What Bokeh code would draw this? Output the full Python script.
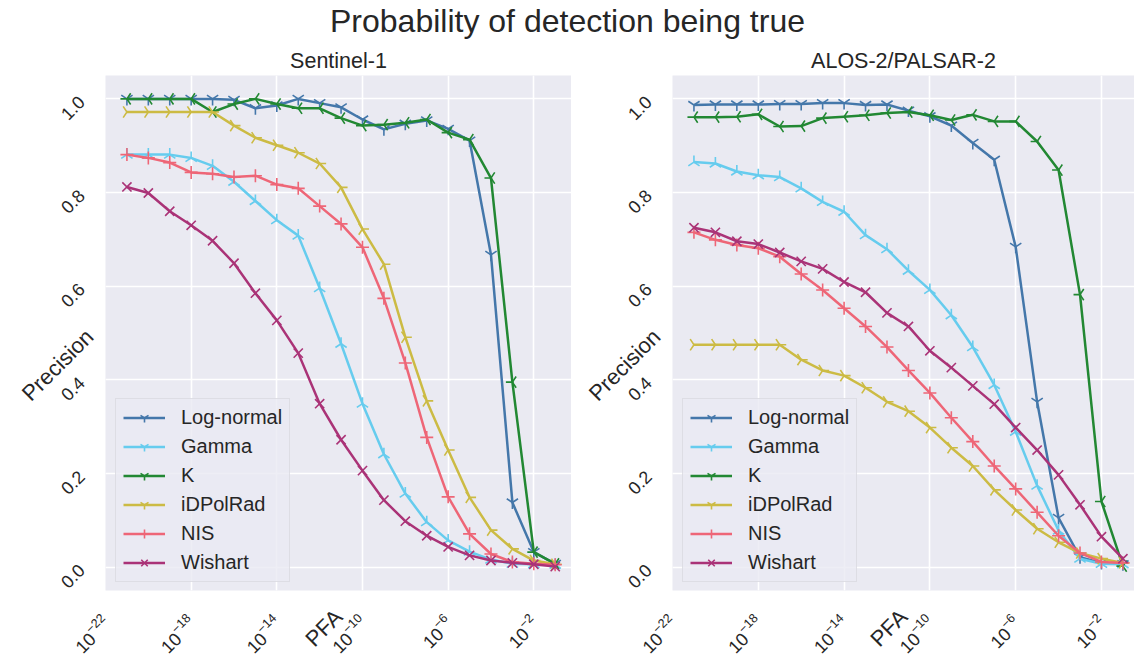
import math
from bokeh.plotting import figure
from bokeh.models import Legend, LegendItem, FixedTicker, LogTickFormatter, NumeralTickFormatter, Range1d
from bokeh.layouts import column, row
from bokeh.embed import file_html
from bokeh.resources import INLINE

# ---------------- data ----------------
exponents = list(range(-21, 0))
pfa = [10.0 ** e for e in exponents]

series_names = ["Log-normal", "Gamma", "K", "iDPolRad", "NIS", "Wishart"]
colors = ["#4477AA", "#66CCEE", "#228833", "#CCBB44", "#EE6677", "#AA3377"]

s1_lognormal = [1.0, 1.0, 1.0, 1.0, 1.0, 0.998, 0.980, 0.986, 1.0, 0.991, 0.982, 0.956, 0.935, 0.947, 0.954, 0.936, 0.911, 0.667, 0.138, 0.032, 0.007]
s1_gamma = [0.881, 0.881, 0.881, 0.874, 0.857, 0.823, 0.782, 0.741, 0.708, 0.596, 0.477, 0.349, 0.241, 0.157, 0.096, 0.057, 0.033, 0.016, 0.007, 0.006, 0.005]
s1_k = [1.0, 1.0, 1.0, 1.0, 0.972, 0.989, 1.0, 0.989, 0.980, 0.980, 0.959, 0.943, 0.945, 0.949, 0.956, 0.928, 0.913, 0.831, 0.395, 0.032, 0.007]
s1_idpolrad = [0.972, 0.972, 0.972, 0.972, 0.972, 0.943, 0.917, 0.901, 0.885, 0.862, 0.811, 0.722, 0.647, 0.491, 0.355, 0.250, 0.149, 0.079, 0.039, 0.014, 0.006]
s1_nis = [0.881, 0.874, 0.864, 0.843, 0.840, 0.833, 0.836, 0.817, 0.809, 0.771, 0.733, 0.683, 0.574, 0.436, 0.277, 0.150, 0.071, 0.028, 0.011, 0.007, 0.005]
s1_wishart = [0.812, 0.799, 0.760, 0.730, 0.697, 0.649, 0.585, 0.527, 0.457, 0.349, 0.272, 0.206, 0.143, 0.098, 0.067, 0.043, 0.025, 0.014, 0.009, 0.006, 0.001]

al_lognormal = [0.987, 0.988, 0.988, 0.988, 0.989, 0.989, 0.991, 0.991, 0.987, 0.988, 0.975, 0.963, 0.943, 0.906, 0.870, 0.684, 0.353, 0.105, 0.021, 0.009, 0.006]
al_gamma = [0.865, 0.862, 0.845, 0.837, 0.833, 0.809, 0.780, 0.759, 0.709, 0.679, 0.633, 0.592, 0.538, 0.470, 0.389, 0.289, 0.174, 0.078, 0.018, 0.007, 0.006]
al_k = [0.961, 0.961, 0.962, 0.967, 0.941, 0.942, 0.959, 0.962, 0.965, 0.970, 0.972, 0.965, 0.955, 0.966, 0.952, 0.952, 0.909, 0.848, 0.582, 0.140, 0.002]
al_idpolrad = [0.475, 0.475, 0.475, 0.475, 0.475, 0.443, 0.420, 0.409, 0.383, 0.353, 0.333, 0.298, 0.255, 0.216, 0.165, 0.122, 0.082, 0.053, 0.030, 0.018, 0.009]
al_nis = [0.715, 0.699, 0.688, 0.681, 0.663, 0.626, 0.592, 0.553, 0.514, 0.470, 0.420, 0.372, 0.319, 0.268, 0.216, 0.167, 0.117, 0.067, 0.030, 0.011, 0.009]
al_wishart = [0.725, 0.715, 0.696, 0.690, 0.672, 0.653, 0.637, 0.609, 0.587, 0.543, 0.514, 0.462, 0.426, 0.387, 0.348, 0.298, 0.250, 0.197, 0.133, 0.065, 0.018]

x_tick_values = [1e-22, 1e-18, 1e-14, 1e-10, 1e-6, 1e-2]
y_tick_values = [0.0, 0.2, 0.4, 0.6, 0.8, 1.0]

# marker: (bokeh marker, angle) emulating matplotlib '1','2','3','4','+','x'
markers = [("y", 0.0), ("y", math.pi), ("y", -math.pi / 2), ("y", math.pi / 2), ("cross", 0.0), ("x", 0.0)]

FONT = "Liberation Sans"
TXT = "#262626"
BG = "#EAEAF2"


def make_panel(title, data, x_end, width, min_left):
    p = figure(width=width, height=624, x_axis_type="log", output_backend="svg",
               toolbar_location=None, x_range=Range1d(1e-22, x_end), y_range=Range1d(-0.05, 1.05),
               min_border_left=min_left, min_border_right=0, min_border_top=35, min_border_bottom=74)
    p.background_fill_color = BG
    p.border_fill_color = "white"
    p.outline_line_color = None
    p.title.text = title
    p.title.align = "center"
    p.title.text_font = FONT
    p.title.text_font_size = "21.5px"
    p.title.text_font_style = "normal"
    p.title.text_color = TXT
    p.title.standoff = 6

    for ax in (p.xaxis[0], p.yaxis[0]):
        ax.axis_line_color = None
        ax.major_tick_line_color = None
        ax.minor_tick_line_color = None
        ax.major_label_text_font = FONT
        ax.major_label_text_font_size = "18px"
        ax.major_label_text_color = TXT
        ax.major_label_orientation = math.pi / 4
        ax.axis_label_text_font = FONT
        ax.axis_label_text_font_size = "22px"
        ax.axis_label_text_font_style = "normal"
        ax.axis_label_text_color = TXT
        if "axis_label_orientation" in type(ax).properties():
            ax.axis_label_orientation = math.pi / 4
    p.xaxis.ticker = FixedTicker(ticks=x_tick_values)
    p.xaxis.formatter = LogTickFormatter()
    p.yaxis.ticker = FixedTicker(ticks=y_tick_values)
    p.yaxis.formatter = NumeralTickFormatter(format="0.0")
    p.xaxis.major_label_standoff = 22
    p.yaxis.major_label_standoff = 18
    p.xaxis.axis_label = "PFA"
    p.yaxis.axis_label = "Precision"
    p.xaxis.axis_label_standoff = -51
    p.yaxis.axis_label_standoff = -38

    p.xgrid.ticker = FixedTicker(ticks=x_tick_values)
    p.ygrid.ticker = FixedTicker(ticks=y_tick_values)
    for g in (p.xgrid[0], p.ygrid[0]):
        g.grid_line_color = "white"
        g.grid_line_width = 1.6

    items = []
    for name, ys, col, (mk, ang) in zip(series_names, data, colors, markers):
        r1 = p.line(pfa, ys, line_color=col, line_width=2.5)
        r2 = p.scatter(pfa, ys, marker=mk, angle=ang, size=13, line_color=col, line_width=1.6)
        items.append(LegendItem(label=name, renderers=[r1, r2]))

    leg = Legend(items=items, location=(10, 8))
    leg.label_text_font = FONT
    leg.label_text_font_size = "20px"
    leg.label_text_color = TXT
    leg.background_fill_color = BG
    leg.background_fill_alpha = 0.8
    leg.border_line_color = "#CFCFD6"
    leg.border_line_width = 1
    leg.glyph_width = 42
    leg.glyph_height = 23
    leg.label_height = 23
    leg.spacing = 6
    leg.padding = 7
    leg.label_standoff = 16
    p.add_layout(leg, "center")
    return p


left = make_panel("Sentinel-1",
                  [s1_lognormal, s1_gamma, s1_k, s1_idpolrad, s1_nis, s1_wishart],
                  10 ** -0.24, 571, 105)
right = make_panel("ALOS-2/PALSAR-2",
                   [al_lognormal, al_gamma, al_k, al_idpolrad, al_nis, al_wishart],
                   10 ** -0.46, 563, 101)

top = figure(width=1134, height=40, output_backend="svg", toolbar_location=None,
             x_axis_type=None, y_axis_type=None, min_border=0,
             x_range=Range1d(0, 1), y_range=Range1d(0, 1))
top.outline_line_color = None
top.grid.visible = False
top.title.text = "Probability of detection being true"
top.title.align = "center"
top.title.text_font = FONT
top.title.text_font_size = "32px"
top.title.text_font_style = "normal"
top.title.text_color = TXT
top.title.standoff = 0

layout = column(top, row(left, right, spacing=0), spacing=0)
open("out.html", "w").write(file_html(layout, INLINE))
